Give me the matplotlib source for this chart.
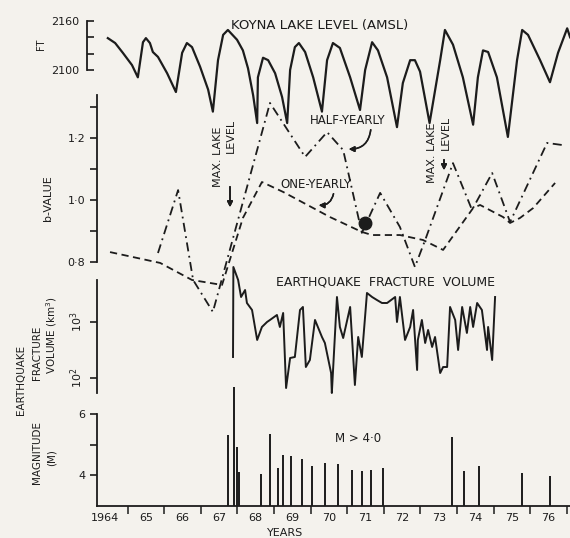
import matplotlib.pyplot as plt
from matplotlib.ticker import NullLocator

# Koyna lake level (ft, AMSL)
lake_year = [1964.46, 1964.66, 1964.87, 1965.12, 1965.28, 1965.42, 1965.50, 1965.61, 1965.69, 1965.83,
             1966.08, 1966.32, 1966.49, 1966.62, 1966.76, 1966.98, 1967.20, 1967.33, 1967.47, 1967.61,
             1967.74, 1967.99, 1968.15, 1968.29, 1968.43, 1968.54, 1968.56, 1968.70, 1968.84, 1969.03,
             1969.22, 1969.36, 1969.44, 1969.57, 1969.68, 1969.85, 1970.07, 1970.31, 1970.45, 1970.61,
             1970.80, 1971.08, 1971.35, 1971.49, 1971.68, 1971.84, 1972.09, 1972.36, 1972.52, 1972.72,
             1972.85, 1972.99, 1973.25, 1973.54, 1973.67, 1973.89, 1974.16, 1974.44, 1974.57, 1974.71,
             1974.85, 1975.09, 1975.39, 1975.64, 1975.78, 1975.94, 1976.27, 1976.54, 1976.76, 1977.01,
             1977.09]
lake_ft = [2139, 2133, 2121, 2106, 2091, 2134, 2139, 2133, 2122, 2116,
           2096, 2073, 2121, 2133, 2128, 2104, 2076, 2049, 2112, 2143,
           2149, 2137, 2124, 2102, 2069, 2035, 2091, 2115, 2112, 2096,
           2067, 2035, 2100, 2128, 2133, 2122, 2091, 2049, 2112, 2133,
           2127, 2091, 2051, 2100, 2134, 2124, 2091, 2030, 2084, 2112,
           2112, 2098, 2035, 2112, 2149, 2131, 2091, 2033, 2091, 2124,
           2122, 2091, 2018, 2112, 2149, 2143, 2112, 2085, 2121, 2151,
           2140]

# b-values
half_year = [1965.83, 1966.38, 1966.79, 1967.33, 1968.89, 1969.85, 1970.45, 1970.89, 1971.40, 1971.90,
             1972.44, 1972.85, 1973.13, 1973.89, 1974.41, 1974.96, 1975.45, 1976.46, 1976.90]
half_b = [0.829, 1.032, 0.742, 0.639, 1.313, 1.139, 1.219, 1.161, 0.894, 1.023,
          0.913, 0.784, 0.871, 1.119, 0.968, 1.087, 0.929, 1.184, 1.177]
one_year = [1964.52, 1965.89, 1966.76, 1967.58, 1968.15, 1968.67, 1969.25, 1970.53, 1971.40, 1971.68,
            1972.44, 1973.07, 1973.62, 1974.44, 1974.63, 1975.26, 1975.45, 1975.72, 1976.08, 1976.68]
one_b = [0.832, 0.797, 0.742, 0.726, 0.942, 1.058, 1.026, 0.945, 0.897, 0.887,
         0.887, 0.871, 0.839, 0.974, 0.984, 0.945, 0.926, 0.942, 0.974, 1.055]
dot_year, dot_b = 1971.49, 0.926

# earthquake fracture volume, log10(km^3)
vol_year = [1967.88, 1967.89, 1968.02, 1968.10, 1968.21, 1968.26, 1968.40, 1968.54, 1968.67, 1968.81,
            1968.89, 1969.08, 1969.16, 1969.25, 1969.33, 1969.44, 1969.57, 1969.71, 1969.79, 1969.87,
            1969.98, 1970.12, 1970.31, 1970.39, 1970.56, 1970.58, 1970.72, 1970.80, 1970.89, 1971.08,
            1971.21, 1971.30, 1971.40, 1971.54, 1971.68, 1971.81, 1971.95, 1972.09, 1972.31, 1972.36,
            1972.44, 1972.58, 1972.72, 1972.80, 1972.91, 1972.93, 1973.04, 1973.13, 1973.21, 1973.32,
            1973.40, 1973.54, 1973.62, 1973.73, 1973.81, 1973.95, 1974.03, 1974.14, 1974.27, 1974.36,
            1974.44, 1974.55, 1974.68, 1974.82, 1974.85, 1974.96, 1975.04]
vol_log = [2.375, 3.982, 3.75, 3.446, 3.571, 3.339, 3.214, 2.679, 2.911, 3.0,
           3.036, 3.125, 2.911, 3.161, 1.821, 2.357, 2.375, 3.214, 3.268, 2.196,
           2.321, 3.036, 2.732, 2.625, 2.089, 1.732, 3.446, 2.911, 2.714, 3.268,
           1.875, 2.732, 2.375, 3.518, 3.446, 3.393, 3.339, 3.339, 3.446, 3.0,
           3.446, 2.679, 2.911, 3.214, 2.143, 2.679, 3.036, 2.625, 2.857, 2.554,
           2.732, 2.089, 2.196, 2.196, 3.268, 3.036, 2.5, 3.268, 2.804, 3.268,
           2.911, 3.339, 3.214, 2.5, 2.911, 2.321, 3.446]

# earthquakes M > 4.0
eq_year = [1967.73, 1967.92, 1968.00, 1968.04, 1968.64, 1968.89, 1969.12, 1969.24, 1969.46, 1969.76,
           1970.03, 1970.39, 1970.76, 1971.12, 1971.40, 1971.65, 1971.97, 1973.86, 1974.20, 1974.61,
           1975.78, 1976.54]
eq_mag = [5.33, 6.9, 4.93, 4.1, 4.05, 5.36, 4.25, 4.67, 4.64, 4.54,
          4.31, 4.41, 4.38, 4.18, 4.15, 4.18, 4.25, 5.26, 4.15, 4.31,
          4.08, 3.98]

year_labels = ['1964', '65', '66', '67', '68', '69', '70', '71', '72', '73', '74', '75', '76']

W, H = 570, 538
ink = '#1c1c1c'
paper = '#f4f2ed'
plt.rcParams['font.family'] = 'DejaVu Sans'


def px(x, y):
    return x / W, 1 - y / H


fig = plt.figure(figsize=(W / 100, H / 100), dpi=100, facecolor=paper)


def panel(top, bottom):
    ax = fig.add_axes([97 / W, 1 - bottom / H, (W - 97) / W, (bottom - top) / H])
    ax.patch.set_alpha(0)
    for s in ['top', 'right', 'bottom']:
        ax.spines[s].set_visible(False)
    ax.spines['left'].set_color(ink)
    ax.spines['left'].set_linewidth(1.3)
    ax.set_xlim(1964.164, 1977.087)
    ax.tick_params(bottom=False, labelbottom=False)
    ax.tick_params(axis='y', which='both', colors=ink, labelsize=8, width=1.2, length=5)
    return ax


# lake level
ax1 = panel(12, 142)
ax1.plot(lake_year, lake_ft, color=ink, lw=1.6)
ax1.set_ylim(2011.8, 2171.0)
ax1.spines['left'].set_bounds(2100, 2160)
ax1.spines['left'].set_position(('outward', 7))
ax1.set_yticks([2100, 2160])
ax1.set_yticks([2120, 2140], minor=True)
ax1.tick_params(axis='y', which='both', direction='in', pad=6)

# b-value
ax2 = panel(88, 322)
ax2.plot(one_year, one_b, color=ink, lw=1.3, ls=(0, (4, 2.5)))
ax2.plot(half_year, half_b, color=ink, lw=1.3, ls=(0, (5, 2.5, 1, 2.5)))
ax2.plot(dot_year, dot_b, 'o', color=ink, ms=9)
ax2.set_ylim(0.6065, 1.3613)
ax2.spines['left'].set_bounds(0.8, 1.34)
ax2.set_yticks([0.8, 1.0, 1.2], ['0·8', '1·0', '1·2'])
ax2.set_yticks([0.9, 1.1, 1.3], minor=True)

# fracture volume
ax3 = panel(262, 400)
ax3.plot(vol_year, [10 ** v for v in vol_log], color=ink, lw=1.4)
ax3.set_yscale('log')
ax3.set_ylim(10 ** 1.607, 10 ** 4.071)
ax3.spines['left'].set_bounds(10 ** 1.73, 10 ** 3.75)
ax3.set_yticks([100, 1000], ['$10^2$', '$10^3$'])
ax3.yaxis.set_minor_locator(NullLocator())
for t in ax3.get_yticklabels():
    t.set_rotation(90)
    t.set_va('center')

# magnitudes
ax4 = panel(380, 506)
ax4.vlines(eq_year, 3, eq_mag, color=ink, lw=1.4)
ax4.set_ylim(3.0, 7.131)
ax4.spines['left'].set_bounds(3, 6)
ax4.set_yticks([4, 6])
ax4.set_yticks([5], minor=True)
ax4.spines['bottom'].set_visible(True)
ax4.spines['bottom'].set_color(ink)
ax4.spines['bottom'].set_linewidth(1.3)
ax4.set_xticks(range(1965, 1978))
ax4.set_xticks([1964.37] + [y + 0.5 for y in range(1965, 1977)], year_labels, minor=True)
ax4.tick_params(axis='x', which='major', bottom=True, labelbottom=False, length=6, width=1.1, colors=ink)
ax4.tick_params(axis='x', which='minor', bottom=True, labelbottom=True, length=0, pad=5, labelsize=8,
                colors=ink)

# texts
fig.text(*px(320, 26), 'KOYNA LAKE LEVEL (AMSL)', ha='center', va='center', fontsize=9.5, color=ink)
fig.text(*px(41, 44), 'FT', rotation=90, ha='center', va='center', fontsize=7, color=ink)
fig.text(*px(48, 198), 'b-VALUE', rotation=90, ha='center', va='center', fontsize=8, color=ink)
fig.text(*px(348, 120), 'HALF-YEARLY', ha='center', va='center', fontsize=8.5, color=ink)
fig.text(*px(316, 185), 'ONE-YEARLY', ha='center', va='center', fontsize=8.5, color=ink)
fig.text(*px(385, 282), 'EARTHQUAKE  FRACTURE  VOLUME', ha='center', va='center', fontsize=9, color=ink)
fig.text(*px(358, 439), 'M > 4·0', ha='center', va='center', fontsize=8.5, color=ink)
fig.text(*px(285, 533), 'YEARS', ha='center', va='center', fontsize=8, color=ink)

fig.text(*px(218, 157), 'MAX. LAKE', rotation=90, ha='center', va='center', fontsize=8, color=ink)
fig.text(*px(231, 136), 'LEVEL', rotation=90, ha='center', va='center', fontsize=8, color=ink)
fig.text(*px(432, 153), 'MAX. LAKE', rotation=90, ha='center', va='center', fontsize=8, color=ink)
fig.text(*px(446, 133), 'LEVEL', rotation=90, ha='center', va='center', fontsize=8, color=ink)

fig.text(*px(21, 380), 'EARTHQUAKE', rotation=90, ha='center', va='center', fontsize=7.5, color=ink)
fig.text(*px(37, 353), 'FRACTURE', rotation=90, ha='center', va='center', fontsize=7.5, color=ink)
fig.text(*px(52, 335), 'VOLUME (km$^3$)', rotation=90, ha='center', va='center', fontsize=7.5, color=ink)
fig.text(*px(37, 452), 'MAGNITUDE', rotation=90, ha='center', va='center', fontsize=7.5, color=ink)
fig.text(*px(52, 458), '(M)', rotation=90, ha='center', va='center', fontsize=7.5, color=ink)

# arrows
arrow = dict(arrowstyle='-|>', color=ink, lw=1.2, mutation_scale=8)
fig.add_artist(plt.annotate('', xy=px(230, 210), xytext=px(230, 184), xycoords='figure fraction',
                            arrowprops=arrow))
fig.add_artist(plt.annotate('', xy=px(444, 173), xytext=px(444, 157), xycoords='figure fraction',
                            arrowprops=arrow))
curved = dict(arrowstyle='-|>', color=ink, lw=1.1, mutation_scale=8, connectionstyle='arc3,rad=-0.5')
fig.add_artist(plt.annotate('', xy=px(346, 149), xytext=px(371, 127), xycoords='figure fraction',
                            arrowprops=curved))
fig.add_artist(plt.annotate('', xy=px(316, 205), xytext=px(334, 191), xycoords='figure fraction',
                            arrowprops=curved))

fig.savefig('out.png', dpi=100, facecolor=paper)
